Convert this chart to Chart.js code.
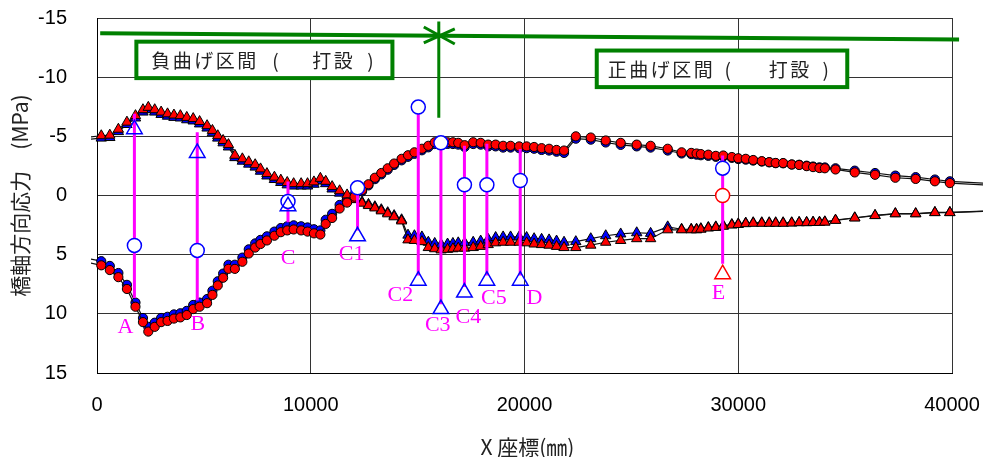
<!DOCTYPE html>
<html>
<head>
<meta charset="utf-8">
<script src="https://cdn.jsdelivr.net/npm/chart.js@4.4.1/dist/chart.umd.min.js"></script>
<style>
  html, body { margin: 0; padding: 0; background: #fff; }
  canvas { display: block; }
</style>
</head>
<body>
<canvas id="stress-chart" width="983" height="457"></canvas>
<script>
// X座標 (mm) of the analysis points, first and last lie outside the axis
const xCoords = [
  -600, 200, 600, 1000, 1400, 1800, 2150, 2400, 2700, 3000,
  3300, 3600, 3900, 4200, 4500, 4800, 5150, 5400, 5650, 5900,
  6150, 6450, 6800, 7100, 7400, 7650, 7950, 8300, 8600, 8900,
  9200, 9550, 9850, 10150, 10450, 10700, 11000, 11350, 11700, 12050,
  12400, 12700, 13000, 13300, 13600, 13900, 14250, 14550, 14850, 15200,
  15500, 15800, 16100, 16400, 16650, 16900, 17200, 17600, 17950, 18300,
  18650, 19000, 19350, 19750, 20100, 20450, 20800, 21150, 21500, 21850,
  22400, 23100, 23800, 24500, 25250, 25900, 26700, 27350, 27800, 28050,
  28250, 28600, 28950, 29300, 29700, 30000, 30350, 30700, 31100, 31450,
  31750, 32100, 32500, 32850, 33200, 33500, 33800, 34050, 34550, 35450,
  36400, 37350, 38300, 39200, 39900, 42000
];

const redCircle = [
  5.6, 5.9, 6.3, 6.9, 7.9, 9.4, 10.7, 11.5, 11.1, 10.7,
  10.6, 10.4, 10.3, 10.1, 9.6, 9.4, 9.1, 8.4, 7.6, 6.95,
  6.2, 6.2, 5.6, 4.9, 4.4, 4.1, 3.8, 3.4, 3.1, 2.95,
  2.87, 2.95, 3.05, 3.2, 3.3, 2.4, 1.9, 1.1, 0.6, 0.1,
  -0.45, -0.95, -1.5, -1.9, -2.3, -2.7, -3.1, -3.4, -3.65, -3.95,
  -4.2, -4.5, -4.5, -4.5, -4.5, -4.45, -4.25, -4.5, -4.45, -4.3,
  -4.3, -4.2, -4.2, -4.15, -4.15, -4.1, -4.0, -3.95, -3.85, -3.8,
  -5.0, -4.9, -4.65, -4.45, -4.3, -4.2, -3.95, -3.65, -3.6, -3.55,
  -3.5, -3.45, -3.35, -3.38, -3.25, -3.15, -3.1, -3.0, -2.9, -2.82,
  -2.75, -2.74, -2.62, -2.58, -2.48, -2.4, -2.32, -2.3, -2.2, -1.95,
  -1.75, -1.5, -1.4, -1.2, -1.05, -0.85
];

const blueCircle = [
  5.25, 5.55, 5.95, 6.55, 7.55, 9.05, 10.35, 11.1, 10.75, 10.35,
  10.25, 10.05, 9.95, 9.75, 9.25, 9.05, 8.75, 8.05, 7.25, 6.6,
  5.85, 5.85, 5.25, 4.55, 4.05, 3.75, 3.45, 3.05, 2.75, 2.6,
  2.52, 2.6, 2.7, 2.85, 2.95, 2.05, 1.55, 0.8, 0.35, -0.1,
  -0.35, -0.85, -1.38, -1.78, -2.18, -2.58, -2.97, -3.27, -3.52, -3.82,
  -4.07, -4.35, -4.37, -4.36, -4.35, -4.3, -4.1, -4.35, -4.3, -4.15,
  -4.15, -4.05, -4.05, -4.0, -4.0, -3.95, -3.85, -3.8, -3.7, -3.6,
  -4.8, -4.72, -4.48, -4.28, -4.15, -4.05, -3.8, -3.55, -3.5, -3.45,
  -3.4, -3.35, -3.27, -3.3, -3.18, -3.08, -3.03, -2.95, -2.87, -2.8,
  -2.73, -2.72, -2.62, -2.6, -2.52, -2.45, -2.38, -2.37, -2.3, -2.1,
  -1.9, -1.68, -1.55, -1.35, -1.2, -1.0
];

const redTriangle = [
  -4.9, -5.05, -5.1, -5.6, -6.2, -6.75, -7.25, -7.45, -7.25, -7.05,
  -6.9, -6.8, -6.75, -6.6, -6.5, -6.25, -5.9, -5.5, -5.05, -4.65,
  -4.3, -3.4, -3.1, -2.85, -2.6, -2.25, -1.85, -1.55, -1.3, -1.1,
  -1.0, -1.0, -1.0, -1.15, -1.45, -1.2, -0.75, -0.4, -0.05, 0.35,
  0.65, 0.85, 1.05, 1.3, 1.55, 1.8, 2.15, 3.75, 3.8, 3.9,
  4.4, 4.5, 4.6, 4.55, 4.5, 4.45, 4.45, 4.4, 4.3, 4.15,
  4.0, 3.95, 3.95, 3.95, 4.0, 4.1, 4.15, 4.2, 4.3, 4.4,
  4.4, 4.2, 3.95, 3.8, 3.65, 3.65, 2.9, 2.9, 2.9, 2.9,
  2.85, 2.75, 2.7, 2.6, 2.5, 2.45, 2.38, 2.35, 2.35, 2.35,
  2.35, 2.35, 2.33, 2.3, 2.3, 2.28, 2.28, 2.25, 2.1, 1.9,
  1.7, 1.55, 1.55, 1.45, 1.45, 1.3
];

const blueTriangle = [
  -4.7, -4.85, -4.9, -5.4, -6.0, -6.55, -7.05, -7.25, -7.05, -6.85,
  -6.7, -6.6, -6.55, -6.4, -6.3, -6.05, -5.7, -5.3, -4.85, -4.45,
  -4.1, -3.2, -2.9, -2.65, -2.4, -2.05, -1.65, -1.35, -1.1, -0.9,
  -0.8, -0.8, -0.8, -0.95, -1.25, -1.0, -0.55, -0.2, 0.1, 0.3,
  0.55, 0.75, 0.95, 1.2, 1.45, 1.7, 2.05, 3.35, 3.4, 3.5,
  3.95, 4.05, 4.15, 4.1, 4.05, 4.0, 4.0, 3.95, 3.85, 3.7,
  3.55, 3.5, 3.5, 3.5, 3.55, 3.65, 3.7, 3.75, 3.85, 3.95,
  3.9, 3.65, 3.4, 3.25, 3.15, 3.2, 2.65, 2.85, 2.85, 2.85,
  2.8, 2.7, 2.65, 2.55, 2.45, 2.4, 2.33, 2.3, 2.3, 2.3,
  2.3, 2.3, 2.3, 2.27, 2.27, 2.25, 2.25, 2.22, 2.08, 1.88,
  1.68, 1.53, 1.53, 1.43, 1.43, 1.28
];

// measured gauges
const gaugeNames = ['A', 'B', 'C', 'C1', 'C2', 'C3', 'C4', 'C5', 'D', 'E'];
const gaugeX = [1750, 4690, 8935, 12190, 15030, 16090, 17190, 18240, 19800, 29270];
const gaugeCircle = [4.22, 4.64, 0.5, -0.65, -7.47, -4.45, -0.9, -0.9, -1.27, -2.31];
const gaugeTriangle = [-5.6, -3.6, 0.9, 3.45, 7.2, 9.6, 8.2, 7.2, 7.2, null];
const gaugeRedCircle = [0];
const gaugeRedTriangle = [6.65];
const rangeTop = [-6.9, -5.35, -1.18, -0.57, -7.47, -4.45, -4.2, -4.37, -3.94, -3.38];
const rangeBottom = [8.67, 8.87, 2.25, 2.96, 6.76, 9.2, 7.74, 6.76, 6.76, 5.77];
const nameX = [1330, 4715, 8935, 11910, 14190, 15940, 17375, 18565, 20470, 29070];
const nameY = [11.1, 10.9, 5.3, 5.0, 8.4, 11.0, 10.3, 8.67, 8.72, 8.22];

const yTicks = [-15, -10, -5, 0, 5, 10, 15];

function series(values) {
  return xCoords.map((x, i) => ({ x: x, y: values[i] }));
}

function hideOutside(ctx, r) {
  const p = ctx.raw;
  return p && (p.x < 0 || p.x > 40000) ? 0 : r;
}

function curve(values, fill, style, r) {
  return {
    data: series(values),
    showLine: true,
    borderColor: '#111',
    borderWidth: 1.2,
    backgroundColor: fill,
    pointBackgroundColor: fill,
    pointBorderColor: '#000',
    pointBorderWidth: 1,
    pointStyle: style,
    pointRadius: ctx => hideOutside(ctx, r),
    clip: { left: 6, right: 40, top: 0, bottom: 0 }
  };
}

const rangeLines = gaugeX.flatMap((x, i) => [
  { x: x, y: rangeTop[i] }, { x: x, y: rangeBottom[i] }, { x: x, y: null }
]);

const datasets = [
  {
    data: gaugeX.map((x, i) => ({ x: x, y: gaugeTriangle[i] })),
    pointStyle: 'triangle', pointRadius: 9, pointBorderWidth: 1.5,
    pointBorderColor: '#0000ff', pointBackgroundColor: 'rgba(0,0,0,0)'
  },
  {
    data: [{ x: gaugeX[9], y: gaugeRedTriangle[0] }],
    pointStyle: 'triangle', pointRadius: 9, pointBorderWidth: 1.5,
    pointBorderColor: '#ff0000', pointBackgroundColor: 'rgba(0,0,0,0)'
  },
  {
    data: gaugeX.map((x, i) => ({ x: x, y: gaugeCircle[i] })),
    pointStyle: 'circle', pointRadius: 7, pointBorderWidth: 1.5,
    pointBorderColor: '#0000ff', pointBackgroundColor: '#fff'
  },
  {
    data: [{ x: gaugeX[9], y: gaugeRedCircle[0] }],
    pointStyle: 'circle', pointRadius: 7, pointBorderWidth: 1.5,
    pointBorderColor: '#ff0000', pointBackgroundColor: '#fff'
  },
  {
    data: rangeLines,
    showLine: true, spanGaps: false, pointRadius: 0,
    borderColor: '#ff00ff', borderWidth: 3
  },
  curve(redCircle, '#ff0000', 'circle', 4.6),
  curve(redTriangle, '#ff0000', 'triangle', 6),
  curve(blueCircle, '#0000ff', 'circle', 4.6),
  curve(blueTriangle, '#0000ff', 'triangle', 6)
];

const annotations = {
  id: 'annotations',
  afterDatasetsDraw(chart) {
    const ctx = chart.ctx;
    const px = v => chart.scales.x.getPixelForValue(v);
    const py = v => chart.scales.y.getPixelForValue(v);
    ctx.save();

    // gauge names
    ctx.fillStyle = '#ff00ff';
    ctx.font = '22px "Liberation Serif"';
    ctx.textAlign = 'center';
    ctx.textBaseline = 'middle';
    gaugeNames.forEach((n, i) => ctx.fillText(n, px(nameX[i]), py(nameY[i])));

    // section line
    ctx.strokeStyle = '#008000';
    ctx.lineWidth = 4;
    ctx.beginPath();
    ctx.moveTo(px(150), py(-13.72));
    ctx.lineTo(px(40330), py(-13.18));
    ctx.stroke();

    // joint marker
    const jx = px(15990), jy = py(-13.65);
    ctx.lineWidth = 3;
    ctx.beginPath();
    ctx.moveTo(jx, py(-14.7));
    ctx.lineTo(jx, py(-6.56));
    ctx.moveTo(jx - 15, jy - 7);
    ctx.lineTo(jx + 16, jy + 10);
    ctx.moveTo(jx - 15, jy + 9);
    ctx.lineTo(jx + 16, jy - 5);
    ctx.stroke();

    // section boxes
    const boxes = [
      { x1: 1842, x2: 13821, y1: -13.0, y2: -9.92, head: '負曲げ区間', offs: [15, 139, 176, 234] },
      { x1: 23380, x2: 35100, y1: -12.25, y2: -9.16, head: '正曲げ区間', offs: [11, 131, 172, 229] }
    ];
    boxes.forEach(b => {
      const l = px(b.x1), r = px(b.x2), t = py(b.y1), btm = py(b.y2);
      ctx.fillStyle = '#fff';
      ctx.fillRect(l, t, r - l, btm - t);
      ctx.strokeStyle = '#008000';
      ctx.lineWidth = 4;
      ctx.strokeRect(l, t, r - l, btm - t);
      const cy = (t + btm) / 2 + 1;
      ctx.fillStyle = '#222';
      ctx.font = '19px "Noto Sans CJK JP"';
      ctx.textBaseline = 'middle';
      ctx.letterSpacing = '2.5px';
      ctx.textAlign = 'left';
      ctx.fillText(b.head, l + b.offs[0], cy);
      ctx.fillText('打設', l + b.offs[2], cy);
      ctx.letterSpacing = '0px';
      ctx.textAlign = 'center';
      ctx.fillText('(', l + b.offs[1], cy);
      ctx.fillText(')', l + b.offs[3], cy);
    });
    ctx.restore();
  },
  afterDraw(chart) {
    const ctx = chart.ctx;
    const area = chart.chartArea;
    ctx.save();
    ctx.fillStyle = '#222';
    ctx.font = '21px "Noto Sans CJK JP"';
    ctx.textAlign = 'center';
    ctx.textBaseline = 'middle';
    ctx.fillText('X 座標(㎜)', (area.left + area.right) / 2 + 3, 447);
    ctx.translate(20, (area.top + area.bottom) / 2);
    ctx.rotate(-Math.PI / 2);
    ctx.fillText('橋軸方向応力　(MPa)', 0, 0);
    ctx.restore();
  }
};

new Chart(document.getElementById('stress-chart'), {
  type: 'scatter',
  data: { datasets: datasets },
  options: {
    responsive: false,
    animation: false,
    devicePixelRatio: 1,
    layout: { autoPadding: false, padding: { top: 18, right: 31, left: 0, bottom: 0 } },
    plugins: { legend: { display: false }, tooltip: { enabled: false } },
    scales: {
      x: {
        type: 'linear',
        min: 0,
        max: 40000,
        afterFit: s => {
          s.height = 84;
          s.paddingLeft = 0;
          s.paddingRight = 0;
        },
        ticks: {
          stepSize: 10000,
          padding: 20,
          maxRotation: 0,
          color: '#000',
          font: { family: 'Liberation Sans', size: 20 },
          callback: v => String(v)
        },
        grid: { color: '#333', lineWidth: 1, drawTicks: false },
        border: { color: '#000' }
      },
      y: {
        min: -15,
        max: 15,
        reverse: true,
        afterFit: s => {
          s.width = 97;
          s.paddingTop = 0;
          s.paddingBottom = 0;
        },
        afterBuildTicks: s => { s.ticks = yTicks.map(v => ({ value: v })); },
        ticks: {
          padding: 30,
          color: '#000',
          font: { family: 'Liberation Sans', size: 20 },
          callback: v => String(v)
        },
        grid: { color: '#333', lineWidth: 1, drawTicks: false },
        border: { color: '#000' }
      }
    }
  },
  plugins: [annotations]
});
</script>
</body>
</html>
